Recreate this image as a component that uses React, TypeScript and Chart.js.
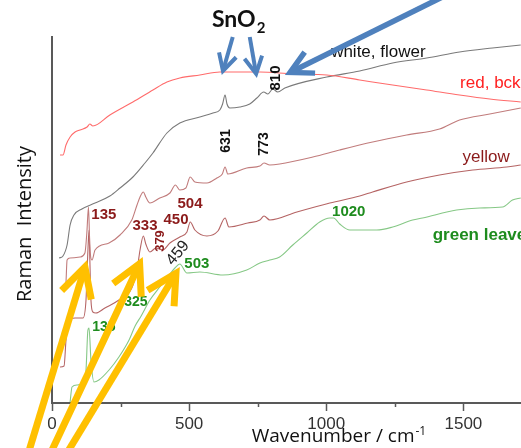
import React, { useEffect, useRef } from 'react';
import { Chart, registerables } from 'chart.js';

Chart.register(...registerables);

// ---- Spectra (wavenumber / cm-1, Raman intensity in arbitrary units) ----
const redWavenumber = [29, 40, 51, 66, 84, 102, 128, 138, 149, 211, 295, 368, 419, 466, 539, 612, 685, 758, 878, 1002, 1122, 1242, 1366, 1486, 1596, 1709];
const redIntensity = [248, 248, 258, 266, 271, 273, 276, 279, 277, 288, 301, 313, 321, 325, 328, 331, 331, 331, 329, 328, 323, 318, 313, 308, 304, 301];

const whiteWavenumber = [26, 40, 55, 66, 80, 109, 157, 211, 248, 295, 339, 368, 419, 466, 539, 587, 612, 622, 631, 638, 648, 685, 721, 747, 772, 787, 805, 823, 849, 1002, 1122, 1242, 1366, 1486, 1606, 1709];
const whiteIntensity = [145, 147, 158, 178, 188, 194, 200, 207, 215, 226, 240, 250, 270, 280, 286, 290, 293, 299, 308, 299, 295, 296, 299, 305, 311, 309, 314, 311, 315, 326, 332, 340, 345, 351, 355, 358];

const orangeWavenumber = [51, 55, 66, 102, 120, 127, 133, 137, 141, 146, 157, 208, 248, 291, 310, 321, 333, 342, 357, 393, 430, 450, 466, 488, 504, 521, 565, 601, 621, 631, 641, 710, 758, 773, 794, 830, 951, 1049, 1169, 1293, 1413, 1486, 1596, 1709];
const orangeIntensity = [120, 143, 145, 146, 150, 170, 196, 165, 146, 143, 153, 160, 168, 183, 198, 206, 211, 206, 200, 205, 210, 218, 213, 215, 226, 221, 220, 225, 229, 236, 229, 235, 237, 240, 238, 239, 246, 253, 261, 268, 274, 283, 289, 295];

const yellowWavenumber = [29, 44, 51, 58, 84, 113, 124, 131, 135, 138, 142, 149, 160, 193, 244, 291, 310, 321, 333, 342, 357, 379, 404, 430, 466, 492, 504, 521, 565, 605, 631, 645, 714, 758, 773, 794, 893, 1013, 1122, 1169, 1293, 1413, 1534, 1658, 1709];
const yellowIntensity = [36, 37, 63, 83, 85, 85, 103, 153, 173, 143, 103, 91, 90, 95, 103, 115, 133, 153, 167, 159, 151, 155, 153, 160, 166, 171, 181, 173, 167, 172, 185, 176, 180, 183, 187, 183, 191, 200, 207, 211, 221, 228, 233, 236, 238];

const greenWavenumber = [66, 73, 91, 117, 124, 131, 135, 142, 153, 171, 208, 244, 281, 303, 325, 357, 393, 430, 448, 466, 492, 539, 623, 710, 758, 794, 830, 878, 929, 976, 1013, 1027, 1049, 1086, 1184, 1242, 1315, 1351, 1475, 1559, 1643, 1679, 1709];
const greenIntensity = [1, 16, 18, 20, 33, 73, 75, 43, 21, 23, 33, 46, 63, 77, 87, 103, 116, 129, 135, 139, 130, 131, 128, 133, 140, 143, 146, 158, 170, 181, 185, 185, 179, 173, 173, 176, 183, 185, 193, 195, 196, 203, 205];

const majorTicks = [0, 500, 1000, 1500];
const minorTicks = [250, 750, 1250];
const xRange = [0, 1710];
const yRange = [0, 366];

// ---- Annotations (placed in data coordinates) ----
type Label = { text: string; x: number; y: number; color: string; font: string; rotate?: number; align?: CanvasTextAlign };
const labels: Label[] = [
  { text: '631', x: 634, y: 262, color: '#111', font: 'bold 14px "Liberation Sans", Arial', rotate: -90 },
  { text: '773', x: 772, y: 259, color: '#111', font: 'bold 14px "Liberation Sans", Arial', rotate: -90 },
  { text: '810', x: 816, y: 325, color: '#111', font: 'bold 15px "Liberation Sans", Arial', rotate: -90 },
  { text: 'white, flower', x: 1190, y: 351, color: '#111', font: '17px "Liberation Sans", Arial' },
  { text: 'red, bck', x: 1488, y: 320, color: '#ff2020', font: '17px "Liberation Sans", Arial', align: 'left' },
  { text: 'yellow', x: 1583, y: 246, color: '#8b1a1a', font: '17px "Liberation Sans", Arial' },
  { text: 'green leaves', x: 1388, y: 168, color: '#1e8c1e', font: 'bold 17px "Liberation Sans", Arial', align: 'left' },
  { text: '1020', x: 1082, y: 191, color: '#1e8c1e', font: 'bold 15px "Liberation Sans", Arial' },
  { text: '135', x: 189, y: 188, color: '#8b1a1a', font: 'bold 15px "Liberation Sans", Arial' },
  { text: '333', x: 339, y: 177, color: '#8b1a1a', font: 'bold 15px "Liberation Sans", Arial' },
  { text: '379', x: 397, y: 162, color: '#8b1a1a', font: 'bold 13px "Liberation Sans", Arial', rotate: -90 },
  { text: '450', x: 452, y: 183, color: '#8b1a1a', font: 'bold 15px "Liberation Sans", Arial' },
  { text: '504', x: 503, y: 199, color: '#8b1a1a', font: 'bold 15px "Liberation Sans", Arial' },
  { text: '459', x: 459, y: 150, color: '#222', font: '16px "Liberation Sans", Arial', rotate: -50 },
  { text: '503', x: 528, y: 139, color: '#1e8c1e', font: 'bold 15px "Liberation Sans", Arial' },
  { text: '325', x: 306, y: 101, color: '#1e8c1e', font: 'bold 14px "Liberation Sans", Arial' },
  { text: '135', x: 189, y: 76, color: '#1e8c1e', font: 'bold 14px "Liberation Sans", Arial' },
];

type Arrow = { from: [number, number]; to: [number, number]; color: string; width: number; head: number };
const arrows: Arrow[] = [
  { from: [659, 366], to: [619, 328], color: '#4f81bd', width: 4, head: 19 },
  { from: [721, 366], to: [747, 325], color: '#4f81bd', width: 4, head: 19 },
  { from: [1475, 413], to: [849, 328], color: '#4f81bd', width: 5.5, head: 25 },
  { from: [-105, -67], to: [128, 143], color: '#ffc000', width: 7, head: 33 },
  { from: [-34, -67], to: [331, 146], color: '#ffc000', width: 7, head: 33 },
  { from: [17, -67], to: [466, 136], color: '#ffc000', width: 7, head: 33 },
];

const toPoints = (xs: number[], ys: number[]) => xs.map((x, i) => ({ x, y: ys[i] }));

function drawArrow(ctx: CanvasRenderingContext2D, x0: number, y0: number, x1: number, y1: number, color: string, width: number, head: number) {
  const half = (28 * Math.PI) / 180;
  const ang = Math.atan2(y1 - y0, x1 - x0);
  const back = width / (2 * Math.sin(half));
  const tx = x1 - back * Math.cos(ang);
  const ty = y1 - back * Math.sin(ang);
  ctx.save();
  ctx.strokeStyle = color;
  ctx.lineWidth = width;
  ctx.lineCap = 'butt';
  ctx.lineJoin = 'miter';
  ctx.miterLimit = 10;
  ctx.beginPath();
  ctx.moveTo(x0, y0);
  ctx.lineTo(tx - Math.cos(ang), ty - Math.sin(ang));
  ctx.stroke();
  ctx.beginPath();
  ctx.moveTo(tx - head * Math.cos(ang - half), ty - head * Math.sin(ang - half));
  ctx.lineTo(tx, ty);
  ctx.lineTo(tx - head * Math.cos(ang + half), ty - head * Math.sin(ang + half));
  ctx.stroke();
  ctx.restore();
}

const annotationPlugin = {
  id: 'ramanAnnotations',
  afterDraw(chart: any) {
    const { ctx, chartArea } = chart;
    const xs = chart.scales.x;
    const ys = chart.scales.y;
    ctx.save();
    // tick marks and tick labels of the wavenumber axis
    ctx.strokeStyle = '#595959';
    ctx.lineWidth = 1.5;
    [...majorTicks, ...minorTicks].forEach((v) => {
      const px = Math.round(xs.getPixelForValue(v)) + 0.5;
      const len = majorTicks.includes(v) ? 8 : 4;
      ctx.beginPath();
      ctx.moveTo(px, chartArea.bottom);
      ctx.lineTo(px, chartArea.bottom + len);
      ctx.stroke();
    });
    ctx.fillStyle = '#333';
    ctx.font = '17px "Liberation Sans", Arial, sans-serif';
    ctx.textAlign = 'center';
    ctx.textBaseline = 'middle';
    majorTicks.forEach((v) => {
      ctx.fillText(String(v), xs.getPixelForValue(v), chartArea.bottom + 21);
    });

    // axis titles
    ctx.fillStyle = '#111';
    ctx.font = '20px "Open Sans", "Noto Sans", sans-serif';
    ctx.save();
    ctx.translate(chartArea.left - 27, (chartArea.top + chartArea.bottom) / 2 + 4);
    ctx.rotate(-Math.PI / 2);
    ctx.textAlign = 'center';
    ctx.textBaseline = 'middle';
    ctx.fillText('Raman  Intensity', 0, 0);
    ctx.restore();

    const mainTitle = 'Wavenumber / cm';
    const sup = '-1';
    ctx.font = '19px "Open Sans", "Noto Sans", sans-serif';
    const w1 = ctx.measureText(mainTitle).width;
    ctx.font = '12px "Open Sans", "Noto Sans", sans-serif';
    const w2 = ctx.measureText(sup).width;
    const cx = (chartArea.left + chartArea.right) / 2 + 52;
    const startX = cx - (w1 + w2) / 2;
    ctx.textAlign = 'left';
    ctx.textBaseline = 'alphabetic';
    ctx.font = '19px "Open Sans", "Noto Sans", sans-serif';
    ctx.fillText(mainTitle, startX, chartArea.bottom + 39);
    ctx.font = '12px "Open Sans", "Noto Sans", sans-serif';
    ctx.fillText(sup, startX + w1 + 1, chartArea.bottom + 32);

    // SnO2 heading
    const snX = xs.getPixelForValue(583);
    const snY = ys.getPixelForValue(376);
    ctx.font = 'bold 23px Lato, "Open Sans", sans-serif';
    ctx.fillText('SnO', snX, snY);
    const snW = ctx.measureText('SnO').width;
    ctx.font = 'bold 15px Lato, "Open Sans", sans-serif';
    ctx.fillText('2', snX + snW + 1, snY + 6);

    // peak / series labels
    labels.forEach((l) => {
      const px = xs.getPixelForValue(l.x);
      const py = ys.getPixelForValue(l.y);
      ctx.save();
      ctx.translate(px, py);
      if (l.rotate) ctx.rotate((l.rotate * Math.PI) / 180);
      ctx.font = l.font;
      ctx.fillStyle = l.color;
      ctx.textAlign = l.align || 'center';
      ctx.textBaseline = 'middle';
      ctx.fillText(l.text, 0, 0);
      ctx.restore();
    });

    // arrows
    arrows.forEach((a) => {
      drawArrow(
        ctx,
        xs.getPixelForValue(a.from[0]),
        ys.getPixelForValue(a.from[1]),
        xs.getPixelForValue(a.to[0]),
        ys.getPixelForValue(a.to[1]),
        a.color,
        a.width,
        a.head
      );
    });
    ctx.restore();
  },
};

export default function App() {
  const canvasRef = useRef<HTMLCanvasElement | null>(null);

  useEffect(() => {
    if (!canvasRef.current) return;
    const lineStyle = { borderWidth: 1.1, pointRadius: 0, cubicInterpolationMode: 'monotone' as const, fill: false };
    const chart = new Chart(canvasRef.current, {
      type: 'line',
      data: {
        datasets: [
          { label: 'red, bck', data: toPoints(redWavenumber, redIntensity), borderColor: '#ff6b6b', ...lineStyle },
          { label: 'white, flower', data: toPoints(whiteWavenumber, whiteIntensity), borderColor: '#7a7a7a', ...lineStyle },
          { label: 'flower', data: toPoints(orangeWavenumber, orangeIntensity), borderColor: '#c17c7c', ...lineStyle },
          { label: 'yellow', data: toPoints(yellowWavenumber, yellowIntensity), borderColor: '#b56464', ...lineStyle },
          { label: 'green leaves', data: toPoints(greenWavenumber, greenIntensity), borderColor: '#86c886', ...lineStyle },
        ],
      },
      options: {
        animation: false,
        responsive: false,
        devicePixelRatio: 1,
        events: [],
        layout: { padding: { left: 52, top: 37, right: 0, bottom: 45 } },
        plugins: { legend: { display: false }, tooltip: { enabled: false } },
        scales: {
          x: {
            type: 'linear',
            min: xRange[0],
            max: xRange[1],
            grid: { display: false, drawTicks: false, tickLength: 0 },
            border: { display: true, color: '#595959', width: 2 },
            ticks: { display: false },
          },
          y: {
            type: 'linear',
            min: yRange[0],
            max: yRange[1],
            grid: { display: false, drawTicks: false, tickLength: 0 },
            border: { display: true, color: '#595959', width: 2 },
            ticks: { display: false },
          },
        },
      },
      plugins: [annotationPlugin],
    });
    return () => chart.destroy();
  }, []);

  return (
    <div style={{ position: 'absolute', left: 0, top: 0, width: 521, height: 448, background: '#fff' }}>
      <canvas ref={canvasRef} width={521} height={448} />
    </div>
  );
}
